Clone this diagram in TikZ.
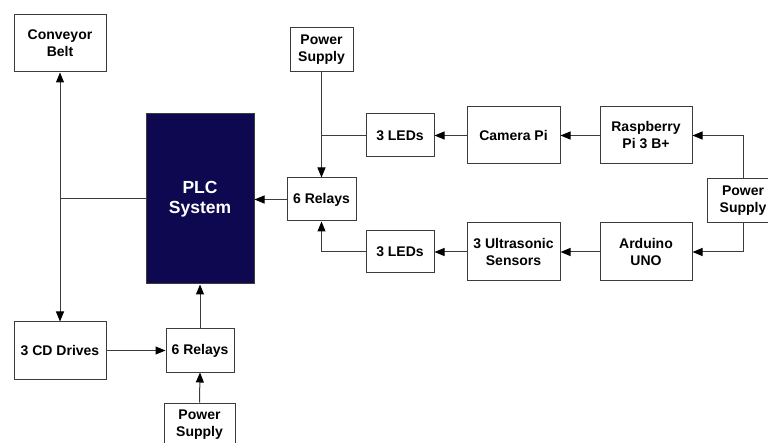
\documentclass[tikz,border=0pt]{standalone}
\usepackage{fontspec}
\setmainfont{Liberation Sans}
\usetikzlibrary{arrows.meta}
\definecolor{linegray}{RGB}{60,60,60}
\definecolor{plcblue}{RGB}{14,8,80}
\tikzset{
  box/.style={draw=linegray, line width=1pt, fill=white, align=center, inner sep=1pt,
    font=\fontsize{14}{17}\selectfont\bfseries, text=black},
  conn/.style={draw=linegray, line width=1pt},
  arr/.style={conn, -{Triangle[length=10pt,width=8pt,color=black]}},
  darr/.style={conn, {Triangle[length=10pt,width=8pt,color=black]}-{Triangle[length=10pt,width=8pt,color=black]}}
}
\begin{document}
\begin{tikzpicture}[x=1pt,y=-1pt]
\useasboundingbox (0,0) rectangle (768,443);
% nodes
\node[box, minimum width=92pt, minimum height=57pt] (conv) at (60,43.5) {Conveyor\\Belt};
\node[box, minimum width=92pt, minimum height=57pt] (cd) at (60,350.5) {3 CD Drives};
\node[draw=linegray, line width=1pt, fill=plcblue, text=white, align=center,
      font=\fontsize{17.5}{20}\selectfont\bfseries,
      minimum width=108pt, minimum height=170pt] (plc) at (200,199) {PLC\\System};
\node[box, minimum width=63pt, minimum height=44pt] (ps1) at (321.5,50) {Power\\Supply};
\node[box, minimum width=68pt, minimum height=43pt] (leds1) at (400,135.5) {3 LEDs};
\node[box, minimum width=69pt, minimum height=43pt] (rel1) at (321.5,199.5) {6 Relays};
\node[box, minimum width=68pt, minimum height=42pt] (leds2) at (400,252) {3 LEDs};
\node[box, minimum width=93pt, minimum height=57pt] (cam) at (513.5,135.5) {Camera Pi};
\node[box, minimum width=92pt, minimum height=57pt] (rasp) at (646,135.5) {Raspberry\\Pi 3 B+};
\node[box, minimum width=93pt, minimum height=58pt] (ultra) at (513.5,252) {3 Ultrasonic\\Sensors};
\node[box, minimum width=92pt, minimum height=58pt] (ard) at (646,252) {Arduino\\UNO};
\node[box, minimum width=72pt, minimum height=44pt] (ps2) at (743,201) {Power\\Supply};
\node[box, minimum width=68pt, minimum height=43pt] (rel2) at (200,350.5) {6 Relays};
\node[box, minimum width=71pt, minimum height=44pt] (ps3) at (199.5,425) {Power\\Supply};
% connectors
\draw[darr] (conv.south) -- (cd.north);
\draw[conn] (plc.west) -- (plc.west -| conv.south);
\draw[arr] (rel1.west) -- (plc.east |- rel1.west);
\draw[arr] (ps1.south) -- (rel1.north);
\draw[conn] (leds1.west) -- (leds1.west -| ps1.south);
\draw[arr] (cam.west) -- (leds1.east);
\draw[arr] (rasp.west) -- (cam.east);
\draw[arr] (ps2.north) |- (rasp.east);
\draw[arr] (ps2.south) |- (ard.east);
\draw[arr] (ard.west) -- (ultra.east);
\draw[arr] (ultra.west) -- (leds2.east);
\draw[arr] (leds2.west) -| (rel1.south);
\draw[arr] (cd.east) -- (rel2.west);
\draw[arr] (rel2.north) -- (plc.south -| rel2.north);
\draw[arr] (ps3.north) -- (rel2.south);
\end{tikzpicture}
\end{document}
